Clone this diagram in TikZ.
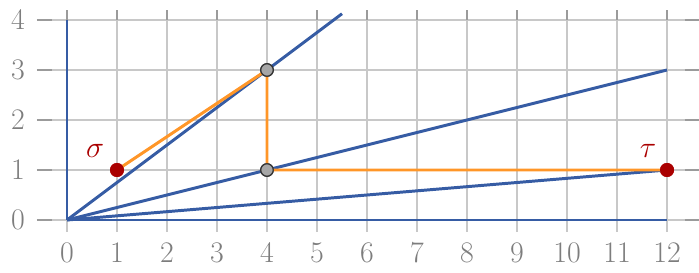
\documentclass[tikz,border=0pt]{standalone}
\begin{document}
\begin{tikzpicture}
\definecolor{rayblue}{RGB}{54,92,164}
\definecolor{pathorange}{RGB}{255,150,40}
\definecolor{dotred}{RGB}{170,0,0}
\definecolor{gridgray}{RGB}{200,200,200}
\definecolor{tickgray}{RGB}{155,155,155}
\definecolor{labelgray}{RGB}{125,125,125}
\tikzset{
  gridline/.style={draw=gridgray, line width=0.9pt},
  tickline/.style={draw=tickgray, line width=0.9pt},
  ticklabel/.style={text=labelgray, font=\fontsize{17}{19}\selectfont, inner sep=0pt},
  ray/.style={draw=rayblue, line width=1.7pt},
  route/.style={draw=pathorange, line width=1.7pt, line join=round},
  enddot/.style={circle, fill=dotred, minimum size=0.28cm, inner sep=0pt},
  middot/.style={circle, fill=gray!70, draw=black!80, line width=0.7pt, minimum size=0.25cm, inner sep=0pt},
  endlabel/.style={text=dotred, font=\fontsize{19}{21}\selectfont, inner sep=0pt}
}
\useasboundingbox (-1.34,-1.06) rectangle (12.64,4.4);
% grid
\foreach \y in {0,...,4} {
  \draw[gridline] (-0.3,\y) -- (12.35,\y);
  \draw[tickline] (-0.6,\y) -- (-0.3,\y);
  \draw[tickline] (12.35,\y) -- (12.65,\y);
  \node[ticklabel] (yl\y) at (-0.98,\y) {\y};
}
\foreach \x in {0,...,12} {
  \draw[gridline] (\x,-0.24) -- (\x,4.0);
  \draw[tickline] (\x,4.0) -- (\x,4.2);
  \node[ticklabel] (xl\x) at (\x,-0.65) {\x};
}
% coordinates
\coordinate (O) at (0,0);
\coordinate (yt) at (0,4);
\coordinate (xe) at (12,0);
\coordinate (r1) at (5.5,4.125);
\coordinate (r2) at (12,3);
% rays
\draw[ray] (O) -- (yt);
\draw[ray] (O) -- (xe);
\draw[ray] (O) -- (r1);
\draw[ray] (O) -- (r2);
% points
\node[enddot] (sigma) at (1,1) {};
\node[enddot] (tau) at (12,1) {};
\node[middot] (p43) at (4,3) {};
\node[middot] (p41) at (4,1) {};
\draw[ray] (O) -- (tau.center);
\draw[route] (sigma.center) -- (p43.center) -- (p41.center) -- (tau.center);
\node[enddot] at (sigma) {};
\node[enddot] at (tau) {};
\node[middot] at (p43) {};
\node[middot] at (p41) {};
\node[endlabel] (sl) at (0.56,1.38) {$\sigma$};
\node[endlabel] (tl) at (11.62,1.38) {$\tau$};
\end{tikzpicture}
\end{document}
